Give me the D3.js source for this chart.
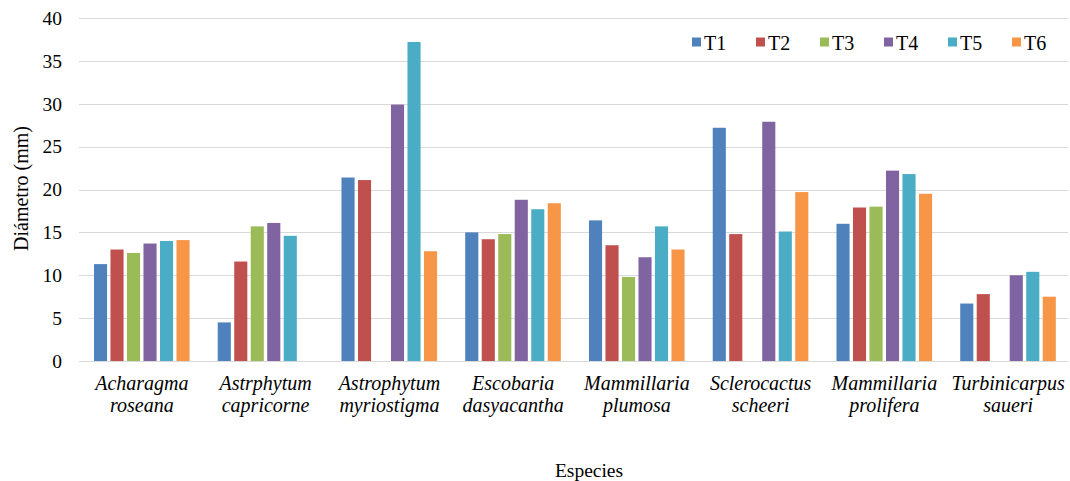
<!DOCTYPE html>
<html>
<head>
<meta charset="utf-8">
<script src="https://cdn.jsdelivr.net/npm/d3@7"></script>
<style>
body { margin: 0; background: #fff; }
</style>
</head>
<body>
<div id="chart"></div>
<script>

// species, two label lines each
var species = [
  ["Acharagma", "roseana"],
  ["Astrphytum", "capricorne"],
  ["Astrophytum", "myriostigma"],
  ["Escobaria", "dasyacantha"],
  ["Mammillaria", "plumosa"],
  ["Sclerocactus", "scheeri"],
  ["Mammillaria", "prolifera"],
  ["Turbinicarpus", "saueri"]
];
var series = ["T1", "T2", "T3", "T4", "T5", "T6"];

// diameter (mm) per treatment, one entry per species (null = no bar)
var t1 = [11.3, 4.5, 21.4, 15.0, 16.4, 27.2, 16.0, 6.7];
var t2 = [13.0, 11.6, 21.1, 14.2, 13.5, 14.8, 17.9, 7.8];
var t3 = [12.6, 15.7, null, 14.8, 9.8, null, 18.0, null];
var t4 = [13.7, 16.1, 29.9, 18.8, 12.1, 27.9, 22.2, 10.0];
var t5 = [14.0, 14.6, 37.2, 17.7, 15.7, 15.1, 21.8, 10.4];
var t6 = [14.1, null, 12.8, 18.4, 13.0, 19.7, 19.5, 7.5];
var yTicks = [0, 5, 10, 15, 20, 25, 30, 35, 40];

var colors = ["#4F81BD", "#C0504D", "#9BBB59", "#8064A2", "#4BACC6", "#F79646"];
var values = [t1, t2, t3, t4, t5, t6];
var FONT = "'Liberation Serif', 'Times New Roman', serif";

var W = 1070, H = 481;
var margin = {top: 18, right: 0, bottom: 120, left: 80},
    width = W - margin.left - margin.right,
    height = H - margin.top - margin.bottom;

var svg = d3.select("#chart").append("svg")
    .attr("width", W)
    .attr("height", H)
    .style("font-family", FONT);

var g = svg.append("g")
    .attr("transform", "translate(" + margin.left + "," + margin.top + ")");

var x0 = d3.scaleBand()
  .domain(species.map(function(d, i) { return i; }))
  .range([0, width])
  .paddingInner(0.2)
  .paddingOuter(0.1);

var x1 = d3.scaleBand()
  .domain(series)
  .range([0, x0.bandwidth()]);

var y = d3.scaleLinear()
  .domain([0, 40])
  .range([height, 0]);

// gridlines
g.selectAll("line.grid")
  .data(yTicks)
  .enter().append("line")
    .attr("class", "grid")
    .attr("x1", -1)
    .attr("x2", width - 2)
    .attr("y1", function(d) { return Math.round(y(d)) + 0.5; })
    .attr("y2", function(d) { return Math.round(y(d)) + 0.5; })
    .attr("stroke", "#d9d9d9")
    .attr("stroke-width", 1);

// y tick labels
g.selectAll("text.ytick")
  .data(yTicks)
  .enter().append("text")
    .attr("class", "ytick")
    .attr("x", -18)
    .attr("y", function(d) { return y(d); })
    .attr("dy", "0.35em")
    .attr("text-anchor", "end")
    .style("font-size", "19.5px")
    .text(function(d) { return d; });

// bars
var groups = g.selectAll("g.species")
  .data(species)
  .enter().append("g")
    .attr("class", "species")
    .attr("transform", function(d, i) { return "translate(" + x0(i) + ",0)"; });

groups.selectAll("rect")
  .data(function(d, i) {
    return series.map(function(s, k) { return {s: s, k: k, v: values[k][i]}; })
      .filter(function(e) { return e.v != null; });
  })
  .enter().append("rect")
    .attr("x", function(d) { return x1(d.s) + 1.6; })
    .attr("width", x1.bandwidth() - 3.4)
    .attr("y", function(d) { return y(d.v); })
    .attr("height", function(d) { return y(0) - y(d.v); })
    .attr("fill", function(d) { return colors[d.k]; });

// x labels
var xl = g.selectAll("text.xlab")
  .data(species)
  .enter().append("text")
    .attr("class", "xlab")
    .attr("x", function(d, i) { return x0(i) + x0.bandwidth() / 2; })
    .attr("y", height + 29)
    .attr("text-anchor", "middle")
    .style("font-size", "20px")
    .style("font-style", "italic");
xl.append("tspan")
  .attr("x", function(d, i) { return x0(i) + x0.bandwidth() / 2; })
  .text(function(d) { return d[0]; });
xl.append("tspan")
  .attr("x", function(d, i) { return x0(i) + x0.bandwidth() / 2; })
  .attr("dy", 22)
  .text(function(d) { return d[1]; });

// axis titles
svg.append("text")
  .attr("x", 589)
  .attr("y", 477)
  .attr("text-anchor", "middle")
  .style("font-size", "19.5px")
  .text("Especies");

svg.append("text")
  .attr("transform", "translate(28,188.5) rotate(-90)")
  .attr("text-anchor", "middle")
  .style("font-size", "20px")
  .text("Diámetro (mm)");

// legend
var legend = svg.selectAll("g.legend")
  .data(series)
  .enter().append("g")
    .attr("class", "legend")
    .attr("transform", function(d, i) { return "translate(" + (692 + i * 64) + ",0)"; });
legend.append("rect")
  .attr("y", 37.5)
  .attr("width", 9)
  .attr("height", 9)
  .attr("fill", function(d, i) { return colors[i]; });
legend.append("text")
  .attr("x", 12)
  .attr("y", 50)
  .style("font-size", "20px")
  .text(function(d) { return d; });

</script>
</body>
</html>
